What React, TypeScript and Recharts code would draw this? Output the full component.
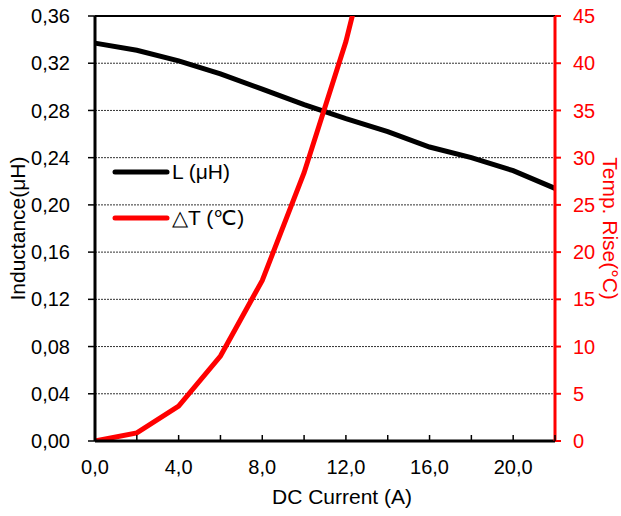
import { LineChart, Line, XAxis, YAxis, CartesianGrid, Legend, ReferenceLine } from 'recharts';

const current = [0, 2, 4, 6, 8, 10, 12, 14, 16, 18, 20, 22];
const inductance = [0.337, 0.331, 0.322, 0.311, 0.298, 0.285, 0.273, 0.262, 0.249, 0.24, 0.229, 0.214];
const tempRise: (number | null)[] = [0, 0.85, 3.7, 9.0, 17.0, 28.4, 42.3, 60, null, null, null, null];

const xTicks = [0, 2, 4, 6, 8, 10, 12, 14, 16, 18, 20, 22];
const leftTicks = [0, 0.04, 0.08, 0.12, 0.16, 0.2, 0.24, 0.28, 0.32, 0.36];
const rightTicks = [0, 5, 10, 15, 20, 25, 30, 35, 40, 45];

const FONT = '"Liberation Sans", Arial, sans-serif';
const RED = '#FF0000';
const X_MARGIN = 19;

const data = current.map((c, i) => ({ current: c, L: inductance[i], dT: tempRise[i] }));

const comma = (v: number, d: number) => v.toFixed(d).replace('.', ',');

function XTick(props: any) {
  const { x, y, payload } = props;
  const v = Number(payload.value);
  const axisY = y - X_MARGIN;
  return (
    <g>
      <line x1={x} x2={x} y1={axisY} y2={axisY - 6} stroke="#000" strokeWidth={1.5} />
      {v % 4 === 0 && (
        <text x={x} y={y} dy="0.71em" textAnchor="middle" fill="#000" fontSize={20} fontFamily={FONT}>
          {comma(v, 1)}
        </text>
      )}
    </g>
  );
}

function LegendBox(props: any) {
  const { payload } = props;
  return (
    <div style={{ fontFamily: FONT, fontSize: 21, color: '#000' }}>
      {(payload || []).map((e: any) => (
        <div key={e.value} style={{ display: 'flex', alignItems: 'center', height: 46 }}>
          <svg width={58} height={10}>
            <line x1={3} x2={55} y1={5} y2={5} stroke={e.color} strokeWidth={5} strokeLinecap="round" />
          </svg>
          <span style={{ marginLeft: 2 }}>{e.value}</span>
        </div>
      ))}
    </div>
  );
}

export default function App() {
  return (
    <div style={{ position: 'absolute', left: 0, top: 0, background: '#fff' }}>
      <LineChart width={621} height={516} data={data} margin={{ top: 16, right: 0, bottom: 0, left: 0 }}>
        <CartesianGrid yAxisId="left" vertical={false} stroke="#333" strokeDasharray="2 1" strokeWidth={1} />
        <XAxis
          dataKey="current"
          type="number"
          domain={[0, 22]}
          ticks={xTicks}
          interval={0}
          height={75}
          tickSize={0}
          tickMargin={X_MARGIN}
          tick={<XTick />}
          axisLine={{ stroke: '#000', strokeWidth: 3 }}
          tickLine={false}
          label={{
            value: 'DC Current (A)',
            position: 'insideBottom',
            offset: 12,
            dx: 17,
            fill: '#000',
            fontSize: 21,
            fontFamily: FONT,
          }}
        />
        <YAxis
          yAxisId="left"
          domain={[0, 0.36]}
          ticks={leftTicks}
          interval={0}
          width={95}
          tickSize={7}
          tickMargin={18}
          tickFormatter={(v) => comma(Number(v), 2)}
          tick={{ fill: '#000', fontSize: 20, fontFamily: FONT }}
          axisLine={{ stroke: '#000', strokeWidth: 3 }}
          tickLine={{ stroke: '#000', strokeWidth: 1.5 }}
          label={{
            value: 'Inductance(μH)',
            angle: -90,
            position: 'insideLeft',
            offset: 18,
            fill: '#000',
            fontSize: 21,
            fontFamily: FONT,
            style: { textAnchor: 'middle' },
          }}
        />
        <YAxis
          yAxisId="right"
          orientation="right"
          domain={[0, 45]}
          allowDataOverflow
          ticks={rightTicks}
          interval={0}
          width={66}
          tickSize={6}
          tickMargin={12}
          tick={{ fill: RED, fontSize: 20, fontFamily: FONT }}
          axisLine={{ stroke: RED, strokeWidth: 3 }}
          tickLine={{ stroke: RED, strokeWidth: 2 }}
          label={{
            value: 'Temp. Rise(°C)',
            angle: 90,
            position: 'insideRight',
            offset: 11,
            fill: RED,
            fontSize: 21,
            fontFamily: FONT,
            style: { textAnchor: 'middle' },
          }}
        />
        <ReferenceLine yAxisId="left" y={0.36} stroke="#000" strokeWidth={2} />
        <Legend
          layout="vertical"
          verticalAlign="middle"
          align="center"
          content={<LegendBox />}
          wrapperStyle={{ left: 112, top: 149, width: 'auto' }}
        />
        <Line
          yAxisId="left"
          type="linear"
          dataKey="L"
          name="L (μH)"
          stroke="#000"
          strokeWidth={5}
          dot={false}
          isAnimationActive={false}
        />
        <Line
          yAxisId="right"
          type="linear"
          dataKey="dT"
          name="△T (℃)"
          stroke={RED}
          strokeWidth={5}
          dot={false}
          connectNulls={false}
          isAnimationActive={false}
        />
      </LineChart>
    </div>
  );
}
